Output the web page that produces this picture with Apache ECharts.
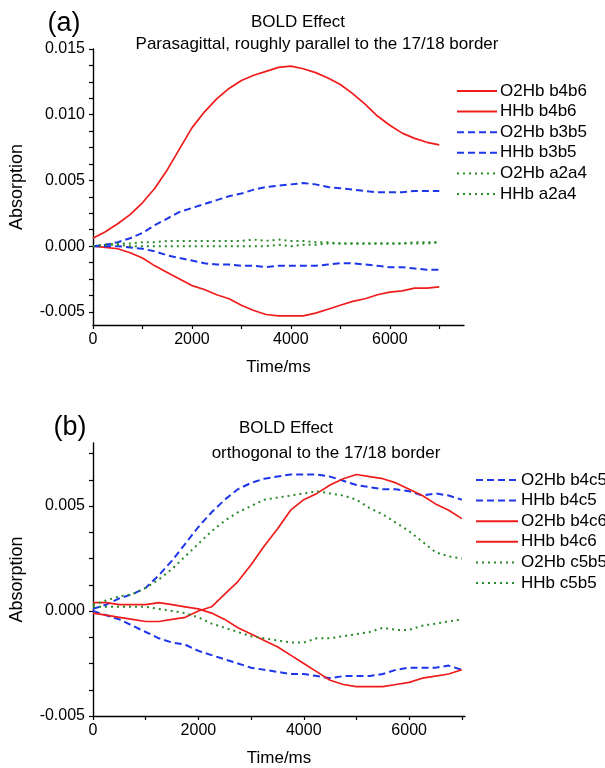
<!DOCTYPE html>
<html>
<head>
<meta charset="utf-8">
<title>BOLD Effect</title>
<script src="https://cdn.jsdelivr.net/npm/echarts@6/dist/echarts.min.js"></script>
<style>
  html, body { margin: 0; padding: 0; background: #fff; }
  #chart { width: 605px; height: 768px; }
</style>
</head>
<body>
<div id="chart"></div>
<script>
// Sample times (ms), shared by every trace
const timeMs = [0, 250, 500, 750, 1000, 1250, 1500, 1750, 2000, 2250, 2500, 2750, 3000, 3250, 3500,
  3750, 4000, 4250, 4500, 4750, 5000, 5250, 5500, 5750, 6000, 6250, 6500, 6750, 7000];

// Panel (a): parasagittal channels
const o2hbB4b6 = [0.0006, 0.0011, 0.0017, 0.0024, 0.0033, 0.0044, 0.0058, 0.0074, 0.0090, 0.0102, 0.0112, 0.0120, 0.0126, 0.0130, 0.0133,
  0.0136, 0.0137, 0.0135, 0.0132, 0.0128, 0.0123, 0.0116, 0.0108, 0.0099, 0.0092, 0.0086, 0.0082, 0.0079, 0.0077];
const hhbB4b6 = [0.0000, -0.0001, -0.0002, -0.0005, -0.0009, -0.0015, -0.0020, -0.0025, -0.0030, -0.0033, -0.0037, -0.0040, -0.0045, -0.0049, -0.0052,
  -0.0053, -0.0053, -0.0053, -0.0051, -0.0048, -0.0045, -0.0042, -0.0040, -0.0037, -0.0035, -0.0034, -0.0032, -0.0032, -0.0031];
const o2hbB3b5 = [0.0000, 0.0001, 0.0003, 0.0006, 0.0010, 0.0016, 0.0021, 0.0026, 0.0029, 0.0032, 0.0035, 0.0038, 0.0040, 0.0043, 0.0045,
  0.0046, 0.0047, 0.0048, 0.0047, 0.0045, 0.0044, 0.0043, 0.0042, 0.0041, 0.0041, 0.0041, 0.0042, 0.0042, 0.0042];
const hhbB3b5 = [0.0000, 0.0000, 0.0000, -0.0001, -0.0002, -0.0004, -0.0007, -0.0009, -0.0011, -0.0013, -0.0014, -0.0014, -0.0015, -0.0015, -0.0016,
  -0.0015, -0.0015, -0.0015, -0.0015, -0.0014, -0.0013, -0.0013, -0.0014, -0.0015, -0.0016, -0.0016, -0.0017, -0.0018, -0.0018];
const o2hbA2a4 = [0.0000, 0.0001, 0.0002, 0.0002, 0.0003, 0.0003, 0.0004, 0.0004, 0.0004, 0.0004, 0.0004, 0.0004, 0.0004, 0.0005, 0.0004,
  0.0005, 0.0004, 0.0004, 0.0003, 0.0003, 0.0002, 0.0002, 0.0002, 0.0002, 0.0002, 0.0002, 0.0002, 0.0002, 0.0003];
const hhbA2a4 = [0.0000, 0.0001, 0.0001, 0.0000, 0.0000, 0.0000, 0.0000, 0.0000, 0.0000, 0.0000, 0.0000, 0.0000, 0.0000, 0.0000, 0.0000,
  0.0001, 0.0000, 0.0001, 0.0001, 0.0002, 0.0002, 0.0002, 0.0002, 0.0002, 0.0002, 0.0002, 0.0003, 0.0003, 0.0003];

// Panel (b): channels orthogonal to the border
const o2hbB4c5 = [0.0001, 0.0003, 0.0006, 0.0008, 0.0011, 0.0017, 0.0024, 0.0032, 0.0040, 0.0047, 0.0053, 0.0058, 0.0061, 0.0063, 0.0064,
  0.0065, 0.0065, 0.0065, 0.0064, 0.0062, 0.0060, 0.0059, 0.0058, 0.0058, 0.0057, 0.0055, 0.0056, 0.0055, 0.0053];
const hhbB4c5 = [0.0000, -0.0002, -0.0004, -0.0007, -0.0010, -0.0013, -0.0015, -0.0016, -0.0019, -0.0021, -0.0023, -0.0025, -0.0027, -0.0028, -0.0029,
  -0.0030, -0.0030, -0.0031, -0.0032, -0.0031, -0.0031, -0.0031, -0.0030, -0.0028, -0.0027, -0.0027, -0.0027, -0.0026, -0.0028];
const o2hbB4c6 = [-0.0001, -0.0002, -0.0003, -0.0004, -0.0005, -0.0005, -0.0004, -0.0003, 0.0000, 0.0002, 0.0008, 0.0014, 0.0022, 0.0031, 0.0039,
  0.0048, 0.0053, 0.0056, 0.0060, 0.0063, 0.0065, 0.0064, 0.0063, 0.0061, 0.0058, 0.0055, 0.0051, 0.0048, 0.0044];
const hhbB4c6 = [0.0004, 0.0004, 0.0003, 0.0003, 0.0003, 0.0004, 0.0003, 0.0002, 0.0001, -0.0001, -0.0004, -0.0008, -0.0011, -0.0014, -0.0017,
  -0.0021, -0.0025, -0.0029, -0.0033, -0.0035, -0.0036, -0.0036, -0.0036, -0.0035, -0.0034, -0.0032, -0.0031, -0.0030, -0.0028];
const o2hbC5b5 = [0.0003, 0.0005, 0.0007, 0.0008, 0.0011, 0.0015, 0.0020, 0.0026, 0.0032, 0.0038, 0.0043, 0.0047, 0.0050, 0.0053, 0.0054,
  0.0055, 0.0056, 0.0057, 0.0056, 0.0055, 0.0053, 0.0049, 0.0046, 0.0042, 0.0038, 0.0033, 0.0028, 0.0026, 0.0025];
const hhbC5b5 = [0.0002, 0.0002, 0.0002, 0.0002, 0.0002, 0.0001, 0.0000, -0.0001, -0.0003, -0.0006, -0.0008, -0.0010, -0.0012, -0.0013, -0.0014,
  -0.0015, -0.0015, -0.0013, -0.0013, -0.0012, -0.0011, -0.0010, -0.0008, -0.0009, -0.0009, -0.0007, -0.0006, -0.0005, -0.0004];

// Axis ticks and labels
const xTicks = [0, 1000, 2000, 3000, 4000, 5000, 6000, 7000];
const xLabels = [0, 2000, 4000, 6000];
const yTicksA = [-0.005, -0.00375, -0.0025, -0.00125, 0, 0.00125, 0.0025, 0.00375, 0.005, 0.00625, 0.0075, 0.00875,
  0.01, 0.01125, 0.0125, 0.01375, 0.015];
const yLabelsA = [-0.005, 0, 0.005, 0.01, 0.015];
const yTicksB = [-0.005, -0.00375, -0.0025, -0.00125, 0, 0.00125, 0.0025, 0.00375, 0.005, 0.00625, 0.0075];
const yLabelsB = [-0.005, 0, 0.005];

const FONT = '"Liberation Sans", Arial, Helvetica, sans-serif';
const RED = '#f01c1c';
const BLUE = '#1e36ea';
const GREEN = '#2a8a2a';
const SOLID = { color: RED, width: 1.7, type: 'solid' };
const DASH = { color: BLUE, width: 2, type: [7, 4] };
const DOT = { color: GREEN, width: 2, type: [2, 4] };

function pairs(values) {
  return timeMs.map((t, i) => [t, values[i]]);
}

function trace(name, values, style, panel) {
  return {
    name: name,
    type: 'line',
    xAxisIndex: panel,
    yAxisIndex: panel,
    data: pairs(values),
    symbol: 'none',
    showSymbol: false,
    color: style.color,
    lineStyle: style,
    emphasis: { disabled: true },
    animation: false
  };
}

const axisLine = { show: true, onZero: false, lineStyle: { color: '#000', width: 1.4 } };
const tickStyle = { color: '#000', width: 1.2 };

function xAxis(panel, max) {
  return {
    type: 'value', gridIndex: panel, min: 0, max: max,
    axisLine: axisLine,
    axisTick: { show: true, customValues: xTicks, length: 4, lineStyle: tickStyle },
    axisLabel: {
      customValues: xLabels, fontSize: 16, fontFamily: FONT, color: '#000', margin: 7,
      formatter: v => String(v)
    },
    splitLine: { show: false },
    name: 'Time/ms', nameLocation: 'middle', nameGap: 34,
    nameTextStyle: { fontSize: 17, fontFamily: FONT, color: '#000' }
  };
}

function yAxis(panel, min, max, ticks, labels) {
  return {
    type: 'value', gridIndex: panel, min: min, max: max,
    axisLine: axisLine,
    axisTick: { show: true, customValues: ticks, length: 4, lineStyle: tickStyle },
    axisLabel: {
      customValues: labels, fontSize: 16, fontFamily: FONT, color: '#000', margin: 8,
      formatter: v => v.toFixed(3)
    },
    splitLine: { show: false },
    name: 'Absorption', nameLocation: 'middle', nameGap: 67, nameRotate: 90,
    nameTextStyle: { fontSize: 18, fontFamily: FONT, color: '#000' }
  };
}

function legend(names, left, top, width) {
  return {
    data: names, orient: 'vertical', left: left, top: top, padding: 0,
    itemWidth: width, itemHeight: 14, itemGap: 2.6, selectedMode: false,
    itemStyle: { opacity: 0 },
    textStyle: { fontSize: 17, fontFamily: FONT, color: '#000', lineHeight: 18, padding: [0, 0, 0, -2] }
  };
}

function label(text, x, y, size) {
  return {
    type: 'text', x: x, y: y,
    style: { text: text, fontSize: size, fontFamily: FONT, fill: '#000', align: 'center', verticalAlign: 'middle' }
  };
}

const namesA = ['O2Hb b4b6', 'HHb b4b6', 'O2Hb b3b5', 'HHb b3b5', 'O2Hb a2a4', 'HHb a2a4'];
const namesB = ['O2Hb b4c5', 'HHb b4c5', 'O2Hb b4c6', 'HHb b4c6', 'O2Hb c5b5', 'HHb c5b5'];

const option = {
  animation: false,
  backgroundColor: '#fff',
  grid: [
    { left: 93, top: 49, width: 371, height: 276, containLabel: false },
    { left: 93, top: 443, width: 372, height: 276, containLabel: false }
  ],
  xAxis: [xAxis(0, 7500), xAxis(1, 7060)],
  yAxis: [
    yAxis(0, -0.006, 0.015, yTicksA, yLabelsA),
    yAxis(1, -0.005, 0.008, yTicksB, yLabelsB)
  ],
  legend: [
    legend(namesA, 456, 82, 40),
    legend(namesB, 475, 471, 42)
  ],
  graphic: [
    label('(a)', 64, 24, 27),
    label('BOLD Effect', 298, 22, 17),
    label('Parasagittal, roughly parallel to the 17/18 border', 317, 44, 17),
    label('(b)', 70, 428, 27),
    label('BOLD Effect', 286, 428, 17),
    label('orthogonal to the 17/18 border', 326, 453, 17)
  ],
  series: [
    trace('O2Hb b4b6', o2hbB4b6, SOLID, 0),
    trace('HHb b4b6', hhbB4b6, SOLID, 0),
    trace('O2Hb b3b5', o2hbB3b5, DASH, 0),
    trace('HHb b3b5', hhbB3b5, DASH, 0),
    trace('O2Hb a2a4', o2hbA2a4, DOT, 0),
    trace('HHb a2a4', hhbA2a4, DOT, 0),
    trace('O2Hb b4c5', o2hbB4c5, DASH, 1),
    trace('HHb b4c5', hhbB4c5, DASH, 1),
    trace('O2Hb b4c6', o2hbB4c6, SOLID, 1),
    trace('HHb b4c6', hhbB4c6, SOLID, 1),
    trace('O2Hb c5b5', o2hbC5b5, DOT, 1),
    trace('HHb c5b5', hhbC5b5, DOT, 1)
  ]
};

const chart = echarts.init(document.getElementById('chart'), null, { renderer: 'canvas' });
chart.setOption(option);
</script>
</body>
</html>
